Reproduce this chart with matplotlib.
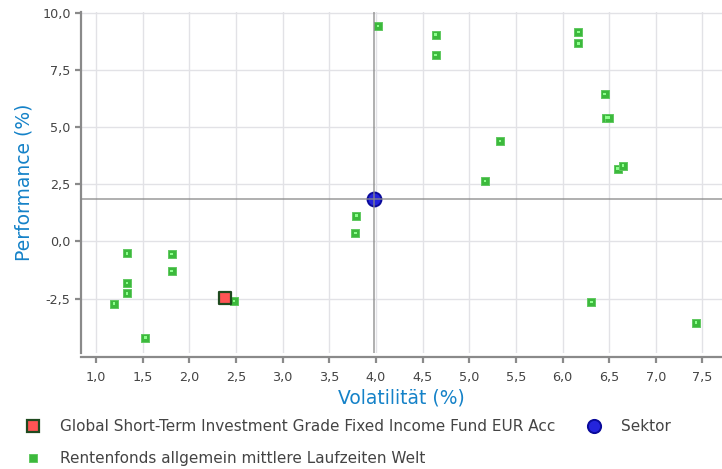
import matplotlib

matplotlib.use("Agg")

import matplotlib.pyplot as plt
from matplotlib.lines import Line2D
from matplotlib.ticker import FuncFormatter

# peer group funds: volatility (%) and performance (%)
peer_vol = [4.02, 4.64, 4.64, 6.17, 6.17, 6.45, 6.47, 6.50, 6.59, 6.65,
            5.33, 5.17, 3.79, 3.78, 1.33, 1.81, 1.81, 1.33, 1.33, 1.19,
            1.53, 2.48, 6.31, 7.43]
peer_perf = [9.43, 9.05, 8.16, 9.16, 8.67, 6.44, 5.42, 5.42, 3.19, 3.32,
             4.39, 2.65, 1.13, 0.37, -0.52, -0.56, -1.30, -1.83, -2.27, -2.72,
             -4.21, -2.60, -2.65, -3.55]

fund_vol = [2.38]
fund_perf = [-2.46]

sector_vol = [3.98]
sector_perf = [1.85]

fund_label = "Global Short-Term Investment Grade Fixed Income Fund EUR Acc"
sector_label = "Sektor"
peer_label = "Rentenfonds allgemein mittlere Laufzeiten Welt"

x_ticks = [1.0, 1.5, 2.0, 2.5, 3.0, 3.5, 4.0, 4.5, 5.0, 5.5, 6.0, 6.5, 7.0, 7.5]
y_ticks = [-2.5, 0.0, 2.5, 5.0, 7.5, 10.0]

BLUE_TEXT = "#1582c8"
GREEN = "#3cb93c"
W, H = 722, 469

fig = plt.figure(figsize=(W / 100, H / 100), dpi=100)
ax = fig.add_axes([81 / W, (H - 353) / H, (W - 81) / W, (353 - 12) / H])
ax.set_xlim(0.839, 7.709)
ax.set_ylim(-4.88, 10.04)

ax.set_xticks(x_ticks)
ax.set_yticks(y_ticks)
comma = FuncFormatter(lambda v, _: f"{v:.1f}".replace(".", ","))
ax.xaxis.set_major_formatter(comma)
ax.yaxis.set_major_formatter(comma)
ax.grid(True, color="#e2e2e6", linewidth=1.0, zorder=0)
ax.set_axisbelow(True)

for side in ("top", "right"):
    ax.spines[side].set_visible(False)
ax.spines["bottom"].set_position(("outward", 3))
for side in ("left", "bottom"):
    ax.spines[side].set_color("#8a8a8a")
    ax.spines[side].set_linewidth(1.6)
ax.tick_params(axis="both", colors="#8a8a8a", width=1.6, length=4,
               labelcolor="#444444", labelsize=9.2)
ax.tick_params(axis="x", pad=6)

ax.set_xlabel("Volatilität (%)", color=BLUE_TEXT, fontsize=13.5, labelpad=3)
ax.set_ylabel("Performance (%)", color=BLUE_TEXT, fontsize=13.5, labelpad=6)

# peers
ax.scatter(peer_vol, peer_perf, marker="s", s=36, facecolor=GREEN,
           edgecolor="#62c962", linewidth=0.7, zorder=3)
ax.scatter(peer_vol, peer_perf, marker="s", s=3, facecolor="#8cff8c",
           edgecolor="none", zorder=4)

# sector crosshair
ax.scatter(sector_vol, sector_perf, marker="o", s=100, facecolor="#2424dc",
           edgecolor="#0a0a9a", linewidth=1.4, zorder=5)
ax.axvline(sector_vol[0], color="#888888", linewidth=1.1, alpha=0.85, zorder=6)
ax.axhline(sector_perf[0], color="#888888", linewidth=1.1, alpha=0.85, zorder=6)

# fund
ax.scatter(fund_vol, fund_perf, marker="s", s=80, facecolor="#ff5454",
           edgecolor="#1f4a1f", linewidth=1.6, zorder=7)

handles = [
    Line2D([], [], linestyle="none", marker="s", markersize=9,
           markerfacecolor="#ff5454", markeredgecolor="#1f4a1f", markeredgewidth=1.6),
    Line2D([], [], linestyle="none", marker="s", markersize=5.5,
           markerfacecolor=GREEN, markeredgecolor="#62c962", markeredgewidth=0.7),
    Line2D([], [], linestyle="none", marker="o", markersize=9.5,
           markerfacecolor="#2424dc", markeredgecolor="#0a0a9a", markeredgewidth=1.4),
]
fig.legend(handles, [fund_label, peer_label, sector_label], ncol=2,
           loc="upper left", bbox_to_anchor=(19 / W, (H - 413) / H),
           frameon=False, fontsize=11, handletextpad=1.3, columnspacing=2.0,
           labelspacing=1.1, labelcolor="#444444", handlelength=1.0,
           borderaxespad=0)

fig.savefig("out.png", dpi=100)
